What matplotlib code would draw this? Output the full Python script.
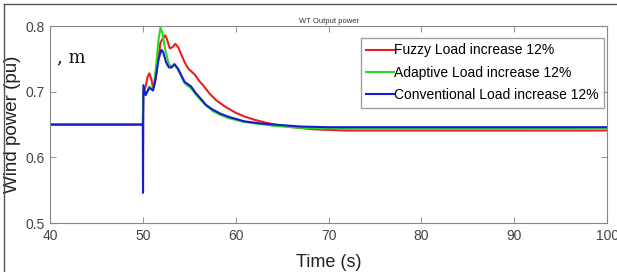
import numpy as np
import matplotlib.pyplot as plt
from matplotlib.lines import Line2D

plt.rcParams['font.family'] = ['Liberation Sans', 'DejaVu Sans']

# values
t_fuzzy = [40, 50, 50.05, 50.3, 50.5, 50.7, 50.9, 51.1, 51.3, 51.6, 51.9, 52.2, 52.4, 52.6,
           52.9, 53.2, 53.5, 53.8, 54.1, 54.5, 54.9, 55.3, 55.6, 56.1, 56.6, 57.2, 57.9,
           58.9, 60, 61, 62.1, 63.2, 64.2, 65.5, 66.8, 68.2, 69.7, 72, 75, 100]
p_fuzzy = [0.65, 0.65, 0.70, 0.708, 0.722, 0.728, 0.72, 0.706, 0.712, 0.745, 0.775, 0.782,
           0.786, 0.78, 0.766, 0.768, 0.773, 0.768, 0.758, 0.745, 0.735, 0.73, 0.726, 0.716,
           0.708, 0.697, 0.687, 0.677, 0.668, 0.662, 0.657, 0.653, 0.65, 0.647, 0.645, 0.643,
           0.642, 0.641, 0.641, 0.641]

t_adapt = [40, 50, 50.05, 50.3, 50.7, 51.1, 51.4, 51.7, 51.9, 52.1, 52.4, 52.8, 53.1, 53.4,
           53.8, 54.5, 55.2, 55.7, 56.2, 56.8, 57.5, 58.3, 59.2, 60.9, 62.5, 64.2, 67, 70, 100]
p_adapt = [0.65, 0.65, 0.70, 0.695, 0.708, 0.702, 0.735, 0.78, 0.798, 0.79, 0.765, 0.742,
           0.738, 0.742, 0.733, 0.713, 0.705, 0.696, 0.688, 0.679, 0.671, 0.665, 0.66, 0.654,
           0.651, 0.648, 0.645, 0.644, 0.645]

t_conv = [40, 50, 50.02, 50.06, 50.3, 50.7, 51.1, 51.4, 51.7, 52.0, 52.2, 52.5, 52.8, 53.1,
          53.4, 53.8, 54.5, 55.2, 55.7, 56.2, 56.8, 57.5, 58.3, 59.2, 60.9, 62.5, 64.2, 67,
          70, 100]
p_conv = [0.65, 0.65, 0.546, 0.71, 0.695, 0.706, 0.702, 0.722, 0.75, 0.764, 0.76, 0.745,
          0.737, 0.737, 0.742, 0.735, 0.715, 0.708, 0.698, 0.69, 0.68, 0.673, 0.667, 0.662,
          0.655, 0.652, 0.65, 0.647, 0.646, 0.646]

labels = ['Fuzzy Load increase 12%', 'Adaptive Load increase 12%', 'Conventional Load increase 12%']

fig = plt.figure(figsize=(6.17, 2.72), dpi=100)
ax = fig.add_axes([0.081, 0.180, 0.903, 0.724])

ax.plot(t_fuzzy, p_fuzzy, color='#ee1c1c', lw=1.5, label=labels[0])
ax.plot(t_adapt, p_adapt, color='#22dd22', lw=1.5, label=labels[1])
ax.plot(t_conv, p_conv, color='#1a1acc', lw=1.5, label=labels[2])

ax.set_xlim(40, 100)
ax.set_ylim(0.5, 0.8)
ax.set_xticks([40, 50, 60, 70, 80, 90, 100])
ax.set_yticks([0.5, 0.6, 0.7, 0.8])
ax.set_yticklabels(['0.5', '0.6', '0.7', '0.8'])
ax.tick_params(direction='in', top=True, right=True, labelsize=10, length=4, color='#999999',
               labelcolor='#444444', pad=4)
for s in ax.spines.values():
    s.set_color('#888888')
    s.set_linewidth(0.8)

ax.set_xlabel('Time (s)', fontsize=13, labelpad=8, color='#222222')
ax.set_ylabel('Wind power (pu)', fontsize=13.5, labelpad=3, color='#222222')
ax.set_title('WT Output power', fontsize=5.5, pad=2, color='#333333')

ax.legend(loc='upper right', fontsize=10, frameon=True, fancybox=False, edgecolor='#888888',
          handlelength=2.0, handletextpad=0.0, borderpad=0.4, labelspacing=0.6,
          borderaxespad=0.0, bbox_to_anchor=(0.995, 0.94))

fig.text(0.092, 0.77, ', m', fontsize=13, family='DejaVu Serif', color='#111111')

# outer frame of the picture (top and left edges only are visible)
fig.add_artist(Line2D([0.006, 1.0], [0.984, 0.984], transform=fig.transFigure, color='#555555', lw=1))
fig.add_artist(Line2D([0.006, 0.006], [0.0, 0.984], transform=fig.transFigure, color='#555555', lw=1))

fig.savefig('out.png', dpi=100)
